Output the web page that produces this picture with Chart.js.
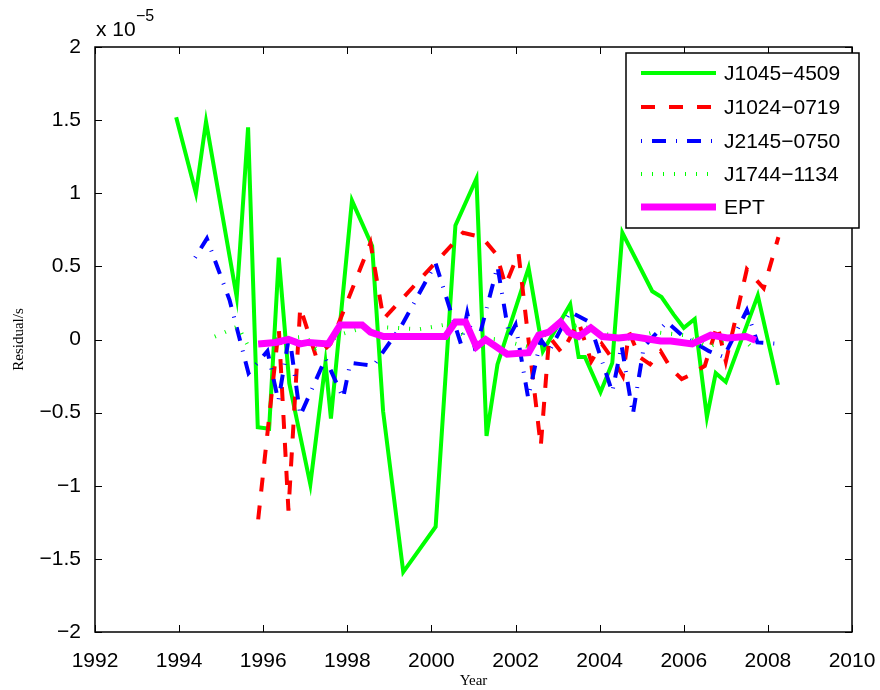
<!DOCTYPE html>
<html>
<head>
  <title>Pulsar timing residuals</title>
  <script src="https://cdn.jsdelivr.net/npm/chart.js"></script>
  <style>body { margin: 0; background: #fff; }</style>
</head>
<body>
<canvas id="resChart" width="880" height="690"></canvas>
<script>
  // residuals in units of 1e-5 s
  const j1045Years = [1993.93, 1994.4, 1994.64, 1995.37, 1995.64, 1995.87, 1996.14, 1996.37, 1996.62, 1997.12,
    1997.48, 1997.61, 1998.11, 1998.59, 1998.85, 1999.33, 2000.1, 2000.57, 2001.07, 2001.31,
    2001.57, 2002.31, 2002.65, 2003.3, 2003.5, 2003.65, 2004.02, 2004.3, 2004.54, 2005.25,
    2005.47, 2005.76, 2006.0, 2006.26, 2006.55, 2006.76, 2007.0, 2007.76, 2008.24];
  const j1045Vals = [1.52, 1.0, 1.49, 0.29, 1.45, -0.60, -0.61, 0.56, -0.3, -0.99,
    -0.16, -0.54, 0.95, 0.64, -0.49, -1.59, -1.28, 0.78, 1.10, -0.66,
    -0.17, 0.49, -0.08, 0.24, -0.12, -0.12, -0.36, -0.16, 0.73, 0.33,
    0.29, 0.17, 0.08, 0.14, -0.53, -0.23, -0.29, 0.30, -0.31];

  const j1024Years = [1995.88, 1996.37, 1996.6, 1996.88, 1997.26, 1997.6, 1998.55, 1998.86, 2000.75, 2001.2,
    2001.55, 2001.76, 2002.07, 2002.6, 2002.8, 2003.1, 2003.5, 2003.8, 2004.05, 2004.35,
    2004.55, 2004.7, 2004.95, 2005.2, 2005.45, 2005.7, 2005.95, 2006.1, 2006.5, 2006.8,
    2007.0, 2007.5, 2007.9, 2008.25];
  const j1024Vals = [-1.23, 0.08, -1.17, 0.22, -0.12, -0.03, 0.66, 0.14, 0.73, 0.70,
    0.58, 0.37, 0.59, -0.73, 0.02, -0.09, 0.12, -0.15, -0.03, -0.15,
    -0.25, 0.05, -0.12, -0.17, -0.08, -0.2, -0.27, -0.25, -0.18, 0.1,
    -0.15, 0.48, 0.35, 0.7];

  const j2145Years = [1994.38, 1994.66, 1995.2, 1995.65, 1996.1, 1996.36, 1996.62, 1996.88, 1997.48, 1997.9,
    1998.07, 1998.36, 1998.62, 1999.3, 2000.1, 2000.7, 2000.85, 2001.05, 2001.57, 2001.85,
    2002.0, 2002.3, 2002.6, 2002.8, 2003.3, 2003.75, 2004.3, 2004.52, 2004.79, 2005.05,
    2005.6, 2005.95, 2006.6, 2006.95, 2007.5, 2007.75, 2008.25];
  const j2145Vals = [0.56, 0.69, 0.27, -0.23, -0.08, -0.42, 0.03, -0.52, -0.13, -0.4,
    -0.16, -0.17, -0.18, 0.1, 0.52, -0.03, 0.18, -0.08, 0.5, 0.02,
    0.1, -0.4, 0.0, -0.08, 0.19, 0.12, -0.36, -0.04, -0.51, -0.05,
    0.12, 0.03, -0.08, -0.12, 0.2, -0.02, -0.03];

  const j1744Years = [1994.85, 1995.4, 1995.65, 1996.3, 1997.0, 1997.25, 1997.9, 1998.5, 1999.7, 2000.3,
    2000.85, 2001.6, 2002.3, 2002.8, 2003.5, 2004.0, 2004.6, 2005.3, 2006.0, 2006.6,
    2007.3, 2007.7];
  const j1744Vals = [0.02, 0.09, -0.05, 0.0, 0.02, -0.06, 0.04, 0.09, 0.07, 0.1,
    0.02, 0.0, -0.05, 0.05, 0.1, 0.05, 0.0, 0.05, 0.03, -0.05,
    0.04, -0.08];

  const eptYears = [1995.88, 1996.29, 1996.6, 1996.88, 1997.07, 1997.55, 1997.83, 1998.35, 1998.55, 1998.86,
    2000.33, 2000.57, 2000.81, 2001.07, 2001.29, 2001.8, 2002.31, 2002.55, 2002.79, 2003.07,
    2003.26, 2003.5, 2003.79, 2004.06, 2004.45, 2004.78, 2005.45, 2005.69, 2006.2, 2006.64,
    2007.04, 2007.48, 2007.71];
  const eptVals = [-0.03, -0.02, 0.0, -0.03, -0.02, -0.03, 0.10, 0.10, 0.05, 0.02,
    0.02, 0.12, 0.12, -0.05, 0.0, -0.1, -0.09, 0.03, 0.05, 0.12,
    0.05, 0.02, 0.08, 0.02, 0.01, 0.02, -0.01, -0.01, -0.03, 0.03,
    0.01, 0.02, -0.005];

  const xTicks = [1992, 1994, 1996, 1998, 2000, 2002, 2004, 2006, 2008, 2010];
  const yTicks = [-2, -1.5, -1, -0.5, 0, 0.5, 1, 1.5, 2];

  const FONT = '"Liberation Sans", Arial, Helvetica, sans-serif';
  const SERIF = '"Liberation Serif", "Times New Roman", serif';

  function pairs(xs, ys) {
    return xs.map((x, i) => ({ x: x, y: ys[i] }));
  }

  function minus(v) {
    return v < 0 ? '\u2212' + Math.abs(v) : String(v);
  }

  const seriesStyle = [
    { label: 'J1045\u22124509', color: '#00ff00', width: 4, dash: [] },
    { label: 'J1024\u22120719', color: '#ff0000', width: 4, dash: [14, 14] },
    { label: 'J2145\u22120750', color: '#0000ff', width: 4, dash: [1, 10, 14, 10] },
    { label: 'J1744\u22121134', color: '#00ff00', width: 4, dash: [1, 10] },
    { label: 'EPT', color: '#ff00ff', width: 7, dash: [] }
  ];

  // frame, inward ticks, exponent and axis titles drawn like the MATLAB figure
  const framePlugin = {
    id: 'frame',
    afterDraw(chart) {
      const ctx = chart.ctx;
      const a = chart.chartArea;
      const sx = chart.scales.x, sy = chart.scales.y;
      ctx.save();
      ctx.strokeStyle = '#000';
      ctx.lineWidth = 1.5;
      ctx.strokeRect(a.left, a.top, a.right - a.left, a.bottom - a.top);
      ctx.lineWidth = 1;
      ctx.beginPath();
      xTicks.forEach(t => {
        const px = Math.round(sx.getPixelForValue(t)) + 0.5;
        ctx.moveTo(px, a.bottom); ctx.lineTo(px, a.bottom - 7);
        ctx.moveTo(px, a.top); ctx.lineTo(px, a.top + 7);
      });
      yTicks.forEach(t => {
        const py = Math.round(sy.getPixelForValue(t)) + 0.5;
        ctx.moveTo(a.left, py); ctx.lineTo(a.left + 7, py);
        ctx.moveTo(a.right, py); ctx.lineTo(a.right - 7, py);
      });
      ctx.stroke();

      ctx.fillStyle = '#000';
      ctx.textBaseline = 'alphabetic';
      ctx.textAlign = 'left';
      ctx.font = '21px ' + FONT;
      ctx.fillText('x 10', a.left + 1, 36);
      ctx.font = '16px ' + FONT;
      ctx.fillText('\u22125', a.left + 41, 21);

      ctx.font = '15px ' + SERIF;
      ctx.textAlign = 'center';
      ctx.fillText('Year', (a.left + a.right) / 2, 685);
      ctx.translate(23, (a.top + a.bottom) / 2);
      ctx.rotate(-Math.PI / 2);
      ctx.fillText('Residual/s', 0, 0);
      ctx.restore();

      // legend box
      const lx = 626, ly = 53, lw = 233, lh = 175;
      ctx.save();
      ctx.fillStyle = '#fff';
      ctx.fillRect(lx, ly, lw, lh);
      ctx.strokeStyle = '#000';
      ctx.lineWidth = 1.5;
      ctx.strokeRect(lx, ly, lw, lh);
      const rows = [73, 107, 141, 174, 207];
      seriesStyle.forEach((s, i) => {
        ctx.beginPath();
        ctx.strokeStyle = s.color;
        ctx.lineWidth = s.width;
        ctx.lineCap = 'butt';
        ctx.setLineDash(s.dash);
        ctx.moveTo(641, rows[i]);
        ctx.lineTo(716, rows[i]);
        ctx.stroke();
        ctx.setLineDash([]);
        ctx.fillStyle = '#000';
        ctx.font = '21px ' + FONT;
        ctx.textBaseline = 'middle';
        ctx.textAlign = 'left';
        ctx.fillText(s.label, 724, rows[i] + 1);
      });
      ctx.restore();
    }
  };

  const sources = [
    [j1045Years, j1045Vals],
    [j1024Years, j1024Vals],
    [j2145Years, j2145Vals],
    [j1744Years, j1744Vals],
    [eptYears, eptVals]
  ];

  const datasets = seriesStyle.map((s, i) => ({
    label: s.label,
    data: pairs(sources[i][0], sources[i][1]),
    borderColor: s.color,
    borderWidth: s.width,
    borderDash: s.dash,
    borderCapStyle: 'butt',
    borderJoinStyle: 'miter',
    pointRadius: 0,
    tension: 0,
    fill: false,
    order: 4 - i
  }));

  const ctx = document.getElementById('resChart').getContext('2d');
  const resChart = new Chart(ctx, {
    type: 'line',
    data: { datasets: datasets },
    options: {
      responsive: false,
      animation: false,
      layout: { padding: { top: 47, right: 28, left: 0, bottom: 0 } },
      plugins: { legend: { display: false }, tooltip: { enabled: false } },
      scales: {
        x: {
          type: 'linear',
          min: 1992,
          max: 2010,
          afterBuildTicks: scale => { scale.ticks = xTicks.map(v => ({ value: v })); },
          afterFit: scale => {
            scale.height = 58;
            scale.paddingLeft = 0;
            scale.paddingRight = 0;
          },
          grid: { display: false },
          border: { display: false },
          ticks: {
            color: '#000',
            font: { family: FONT, size: 21 },
            padding: 9,
            maxRotation: 0,
            callback: v => String(v)
          }
        },
        y: {
          type: 'linear',
          min: -2,
          max: 2,
          afterBuildTicks: scale => { scale.ticks = yTicks.map(v => ({ value: v })); },
          afterFit: scale => {
            scale.width = 95;
            scale.paddingTop = 0;
            scale.paddingBottom = 0;
          },
          grid: { display: false },
          border: { display: false },
          ticks: {
            color: '#000',
            font: { family: FONT, size: 21 },
            padding: 6,
            callback: v => minus(v)
          }
        }
      }
    },
    plugins: [framePlugin]
  });
</script>
</body>
</html>
